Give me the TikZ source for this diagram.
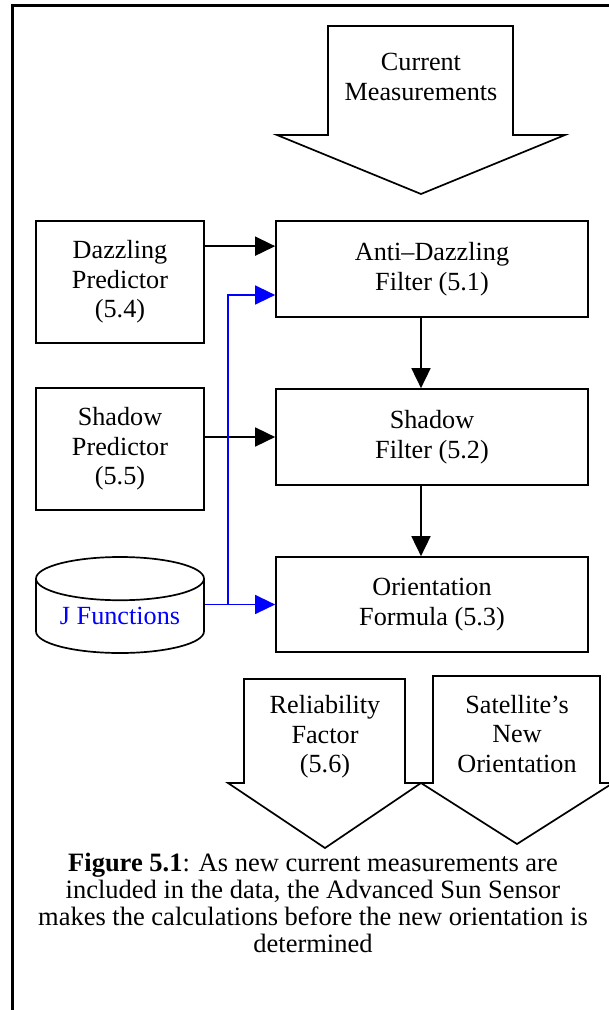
\documentclass[tikz,border=0pt]{standalone}
\usepackage{fontspec}
\setmainfont{Liberation Serif}
\usetikzlibrary{arrows.meta,shapes.geometric}
\definecolor{FlowInk}{HTML}{000000}
\definecolor{FlowBlue}{HTML}{0000FF}

\begin{document}
\begin{tikzpicture}[
	x=1pt, y=-1pt,
	font=\fontsize{26.2}{29.5}\selectfont,
	stage/.style={draw=FlowInk, line width=1.7pt, fill=white, align=center, minimum width=312pt, minimum height=96pt, inner sep=0pt},
	predictor/.style={draw=FlowInk, line width=1.7pt, fill=white, align=center, minimum width=168pt, minimum height=122pt, inner sep=0pt},
	store/.style={draw=FlowInk, line width=1.7pt, fill=white, cylinder, shape border rotate=90, aspect=0.36, align=center, minimum width=168pt, minimum height=96pt, inner sep=0pt, text=FlowBlue},
	bigarrow/.style={draw=FlowInk, line width=1.7pt, line join=miter, fill=white},
	label/.style={align=center},
	link/.style={-{Triangle[length=20pt,width=19pt]}, draw=FlowInk, line width=1.7pt},
	jlink/.style={-{Triangle[length=20pt,width=19pt]}, draw=FlowBlue, line width=1.4pt}
]
\clip (0,0) rectangle (609,1010);

% page frame, open on the right and at the bottom
\draw[line width=2.2pt] (12.5,1015) -- (12.5,5.5) -- (615,5.5);

% incoming measurements
\draw[bigarrow] (328,26) -- (513,26) -- (513,135) -- (565,135) -- (421,194) -- (277,135) -- (328,135) -- cycle;
\node[label] (meas) at (421,77) {Current\\Measurements};
\coordinate (meastip) at (421,194);

\node[predictor] (dazzle) at (120,282) {Dazzling\\Predictor\\(5.4)};
\node[predictor] (shadowpred) at (120,449) {Shadow\\Predictor\\(5.5)};
\node[store, anchor=shape center] (jfunc) at (120,605) {J Functions};

\node[stage] (antidazzle) at (432,269) {Anti--Dazzling\\Filter (5.1)};
\node[stage] (shadowfilt) at (432,437) {Shadow\\Filter (5.2)};
\node[stage, minimum height=95pt] (orient) at (432,604.5) {Orientation\\Formula (5.3)};

\coordinate (jsplit) at (228,604.5);

\draw[link] ([yshift=-26pt]dazzle.north east) -- ([yshift=-26pt]antidazzle.north west);
\draw[link] (shadowpred.east |- shadowfilt) -- (shadowfilt);
\draw[link] (antidazzle.south -| meastip) -- (shadowfilt.north -| meastip);
\draw[link] (shadowfilt.south -| meastip) -- (orient.north -| meastip);
\draw[jlink] (jfunc.east |- orient) -- (orient);
\draw[jlink] (jsplit) |- ([yshift=-26pt]antidazzle.west);

% outputs
\draw[bigarrow] (244,679) -- (405,679) -- (405,783) -- (421,783) -- (325,848) -- (228,783) -- (244,783) -- cycle;
\node[label] (reliab) at (325,737) {Reliability\\Factor\\(5.6)};
\draw[bigarrow] (433,676) -- (600,676) -- (600,783) -- (613,783) -- (517,844) -- (421,783) -- (433,783) -- cycle;
\node[label] (neworient) at (517,734) {Satellite's\\New\\Orientation};

\node[label, font=\fontsize{26.5}{27}\selectfont] (caption) at (313,903) {\textbf{Figure 5.1}: As new current measurements are\\included in the data, the Advanced Sun Sensor\\makes the calculations before the new orientation is\\determined};
\end{tikzpicture}
\end{document}
